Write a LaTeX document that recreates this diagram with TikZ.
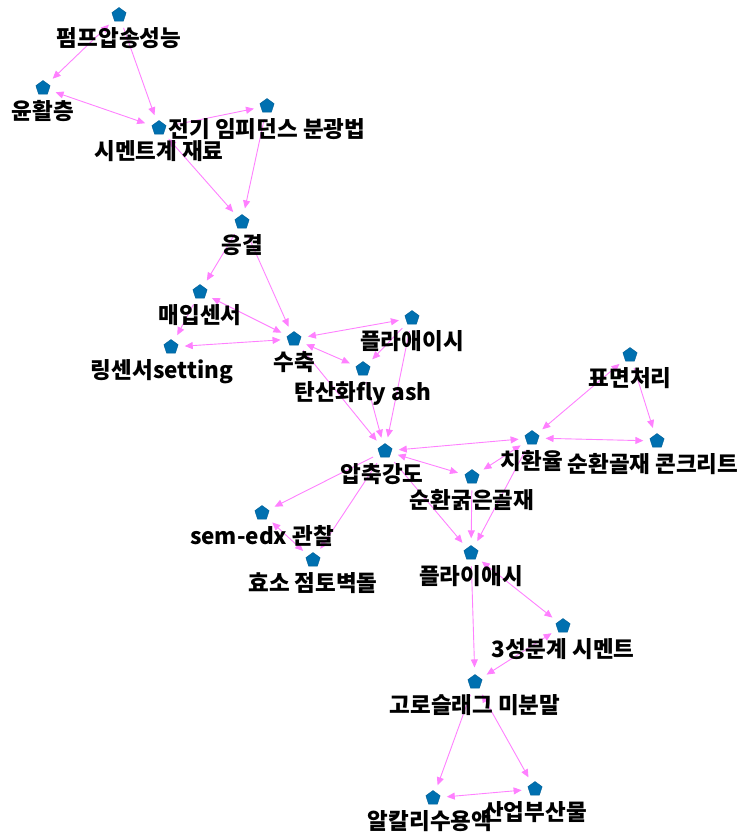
\documentclass[tikz,border=0pt]{standalone}
\usepackage{fontspec}
\setmainfont{Noto Sans CJK KR}
\usetikzlibrary{shapes.geometric,arrows.meta,backgrounds}
\definecolor{dotblue}{RGB}{0,112,176}
\definecolor{edgepink}{RGB}{255,128,255}
\tikzset{
  dot/.style={regular polygon,regular polygon sides=5,minimum size=15pt,inner sep=0pt,
    fill=dotblue,draw=dotblue!85!black,line width=0.4pt},
  lbl/.style={font=\bfseries\fontsize{22.5}{24}\selectfont,inner sep=0pt,text=black},
  link/.style={color=edgepink,line width=0.9pt,shorten <=7pt,shorten >=7pt},
}
\begin{document}
\begin{tikzpicture}[x=1pt,y=-1pt,label distance=6pt,>={Triangle[length=8pt,width=7pt]}]
      \useasboundingbox (0,0) rectangle (745,834);
      \draw
        (119,15) node[dot,label={[lbl]below:펌프압송성능}] (0){}
        (43,88) node[dot,label={[lbl]below:윤활층}] (1){}
        (159,128) node[dot,label={[lbl]below:시멘트계 재료}] (2){}
        (267,106) node[dot,label={[lbl]below:전기 임피던스 분광법}] (3){}
        (242,222) node[dot,label={[lbl]below:응결}] (4){}
        (200,292) node[dot,label={[lbl]below:매입센서}] (5){}
        (171,347) node[dot,label={[lbl,xshift=-9pt]below:링센서setting}] (6){}
        (294,339) node[dot,label={[lbl]below:수축}] (7){}
        (412,318) node[dot,label={[lbl]below:플라애이시}] (8){}
        (363,369) node[dot,label={[lbl]below:탄산화fly ash}] (9){}
        (385,451) node[dot,label={[lbl,xshift=-3pt]below:압축강도}] (10){}
        (532,438) node[dot,label={[lbl]below:치환율}] (11){}
        (657,441) node[dot,label={[lbl,xshift=-4pt]below:순환골재 콘크리트}] (12){}
        (630,355) node[dot,label={[lbl]below:표면처리}] (13){}
        (472,477) node[dot,label={[lbl]below:순환굵은골재}] (14){}
        (262,513) node[dot,label={[lbl]below:sem-edx 관찰}] (15){}
        (313,560) node[dot,label={[lbl]below:효소 점토벽돌}] (16){}
        (471,553) node[dot,label={[lbl]below:플라이애시}] (17){}
        (563,626) node[dot,label={[lbl]below:3성분계 시멘트}] (18){}
        (475,682) node[dot,label={[lbl]below:고로슬래그 미분말}] (19){}
        (433,798) node[dot,label={[lbl,xshift=-3pt]below:알칼리수용액}] (20){}
        (535,789) node[dot,label={[lbl]below:산업부산물}] (21){};
      \begin{scope}[on background layer]
        \draw[link,<->] (0) to (1);
        \draw[link,->] (0) to (2);
        \draw[link,<->] (1) to (2);
        \draw[link,->] (2) to (3);
        \draw[link,<->] (2) to (4);
        \draw[link,->] (3) to (4);
        \draw[link,->] (4) to (5);
        \draw[link,->] (4) to (7);
        \draw[link,<->] (5) to (7);
        \draw[link,->] (5) to (6);
        \draw[link,<->] (6) to (7);
        \draw[link,<->] (7) to (8);
        \draw[link,<->] (7) to (9);
        \draw[link,->] (8) to (9);
        \draw[link,->] (7) to (10);
        \draw[link,->] (9) to (10);
        \draw[link,->] (8) to (10);
        \draw[link,<->] (10) to (11);
        \draw[link,<->] (10) to (14);
        \draw[link,<->] (11) to (14);
        \draw[link,->] (11) to (17);
        \draw[link,<->] (13) to (11);
        \draw[link,->] (13) to (12);
        \draw[link,<->] (11) to (12);
        \draw[link,->] (10) to (15);
        \draw[link,->] (10) to (16);
        \draw[link,<->] (15) to (16);
        \draw[link,->] (10) to (17);
        \draw[link,->] (14) to (17);
        \draw[link,<->] (17) to (18);
        \draw[link,->] (17) to (19);
        \draw[link,<->] (18) to (19);
        \draw[link,->] (19) to (20);
        \draw[link,<->] (19) to (21);
        \draw[link,<->] (20) to (21);
      \end{scope}
    \end{tikzpicture}
\end{document}
